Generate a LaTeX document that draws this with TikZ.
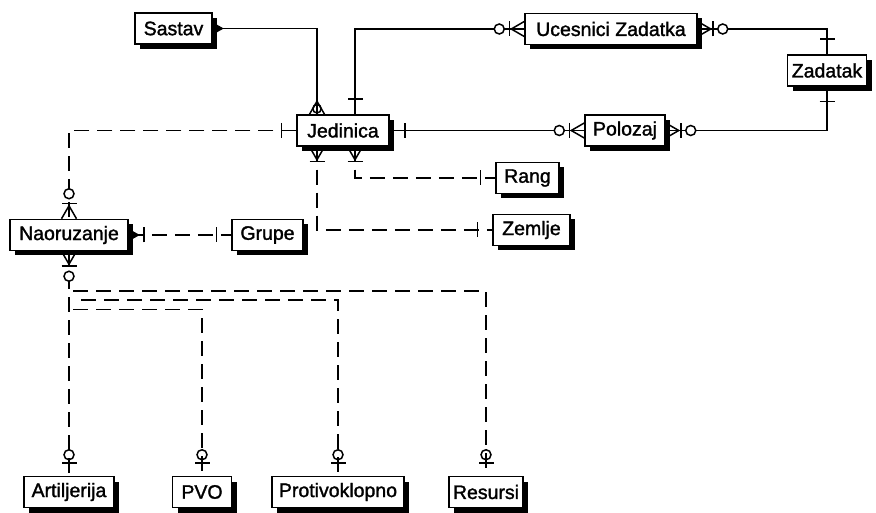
\documentclass[tikz,border=0pt]{standalone}
\usepackage{fontspec}
\setmainfont{Liberation Sans}[BoldFont={Liberation Sans}, BoldFeatures={FakeBold=1.5}]
\usetikzlibrary{shadows}
\newlength{\du}
\setlength{\du}{10\unitlength}

\tikzset{
  entity/.style={draw, fill=white, line width=0.15\du, inner sep=0pt,
    minimum height=3.1\du, font=\fontsize{19.5}{21}\selectfont\bfseries,
    drop shadow={shadow xshift=0.5\du, shadow yshift=-0.5\du, fill=black, opacity=1}},
  rel/.style={line width=0.15\du},
  nonid/.style={rel, dash pattern=on 1.5\du off 0.8\du},
  erline/.style={line width=0.15\du, solid},
  % ER end marks, box edge at the origin, line leaving along +x
  erone/.pic={\draw[erline] (1.5\du,-0.75\du) -- (1.5\du,0.75\du);},
  ermany/.pic={\draw[erline] (0,-0.75\du) -- (1.3\du,0) -- (0,0.75\du);
    \draw[erline] (1.5\du,-0.75\du) -- (1.5\du,0.75\du);},
  erzeromany/.pic={\draw[erline] (0,-0.75\du) -- (1.3\du,0) -- (0,0.75\du);
    \draw[erline] (1.5\du,-0.75\du) -- (1.5\du,0.75\du);
    \draw[erline, fill=white] (2.5\du,0) circle (0.5\du);},
  erzeroone/.pic={\draw[erline] (1.3\du,-0.75\du) -- (1.3\du,0.75\du);
    \draw[erline] (2.1\du,0) circle (0.5\du);},
  ercrowring/.pic={\draw[erline] (0,-0.75\du) -- (1.3\du,0) -- (0,0.75\du);
    \draw[erline] (0.55\du,0) circle (0.42\du);},
  erdot/.pic={\fill (0.3\du,-0.45\du) -- (1.1\du,0) -- (0.3\du,0.45\du) -- cycle;},
  erdotone/.pic={\fill (0.3\du,-0.45\du) -- (1.1\du,0) -- (0.3\du,0.45\du) -- cycle;
    \draw[erline] (1.5\du,-0.75\du) -- (1.5\du,0.75\du);}
}

\begin{document}
\begin{tikzpicture}
\pgftransformxscale{1.000000}
\pgftransformyscale{-1.000000}
\useasboundingbox (0\du,0\du) rectangle (87.6\du,51.3\du);

% entities
\node[entity, minimum width=7.7\du] (sastav) at (17.35\du,2.85\du){Sastav};
\node[entity, minimum width=17.2\du] (ucs) at (61.1\du,2.9\du){Ucesnici Zadatka};
\node[entity, minimum width=7.9\du] (zad) at (82.7\du,7.05\du){Zadatak};
\node[entity, minimum width=9.2\du] (jed) at (34.3\du,13.05\du){Jedinica};
\node[entity, minimum width=8.0\du] (pol) at (62.5\du,13.05\du){Polozaj};
\node[entity, minimum width=6.3\du] (rang) at (52.75\du,17.8\du){Rang};
\node[entity, minimum width=7.7\du] (zem) at (53.15\du,23.0\du){Zemlje};
\node[entity, minimum width=11.8\du] (naor) at (6.9\du,23.5\du){Naoruzanje};
\node[entity, minimum width=7.1\du] (grupe) at (26.75\du,23.5\du){Grupe};
\node[entity, minimum width=9.0\du] (art) at (6.9\du,49.2\du){Artiljerija};
\node[entity, minimum width=5.9\du] (pvo) at (20.2\du,49.2\du){PVO};
\node[entity, minimum width=13.2\du] (prot) at (33.8\du,49.2\du){Protivoklopno};
\node[entity, minimum width=7.4\du] (res) at (48.6\du,49.2\du){Resursi};

% identifying relations
\draw[rel] (sastav.east) -| ([xshift=-2.6\du]jed.north);
\draw[rel] (ucs.west) -| ([xshift=1.2\du]jed.north);
\draw[rel] (ucs.east) -| (zad.north);
\draw[rel] (jed.east) -- (pol.west);
\draw[rel] (pol.east) -| (zad.south);

% non-identifying relations
\draw[nonid] (jed.west) -| (naor.north);
\draw[nonid] ([xshift=1.2\du]jed.south) |- (rang.west);
\draw[nonid] ([xshift=-2.6\du]jed.south) |- (zem.west);
\draw[nonid] (naor.east) -- (grupe.west);
\draw[nonid] (naor.south) -- (art.north);
\draw[nonid] ([xshift=0.4\du]naor.south) ++(0,4.0\du) -| (res.north);
\draw[nonid] ([xshift=1.2\du]naor.south) ++(0,4.9\du) -| (prot.north);
\draw[nonid] ([xshift=0.4\du]naor.south) ++(0,5.8\du) -| (pvo.north);

% end marks
\pic at (sastav.east) {erdot};
\pic[rotate=90] at ([xshift=-2.6\du]jed.north) {ercrowring};
\pic[rotate=90] at ([xshift=1.2\du]jed.north) {erone};
\pic[rotate=180] at (ucs.west) {erzeromany};
\pic at (ucs.east) {erzeromany};
\pic[rotate=90] at (zad.north) {erone};
\pic[rotate=-90] at (zad.south) {erone};
\pic at (jed.east) {erone};
\pic[rotate=180] at (pol.west) {erzeromany};
\pic at (pol.east) {erzeromany};
\pic[rotate=180] at (jed.west) {erone};
\pic[rotate=90] at (naor.north) {erzeromany};
\pic[rotate=-90] at ([xshift=-2.6\du]jed.south) {ermany};
\pic[rotate=-90] at ([xshift=1.2\du]jed.south) {ermany};
\pic[rotate=180] at (rang.west) {erone};
\pic[rotate=180] at (zem.west) {erone};
\pic at (naor.east) {erdotone};
\pic[rotate=180] at (grupe.west) {erone};
\pic[rotate=-90] at (naor.south) {erzeromany};
\foreach \n in {art,pvo,prot,res}
  \pic[rotate=90] at (\n.north) {erzeroone};
\end{tikzpicture}
\end{document}
